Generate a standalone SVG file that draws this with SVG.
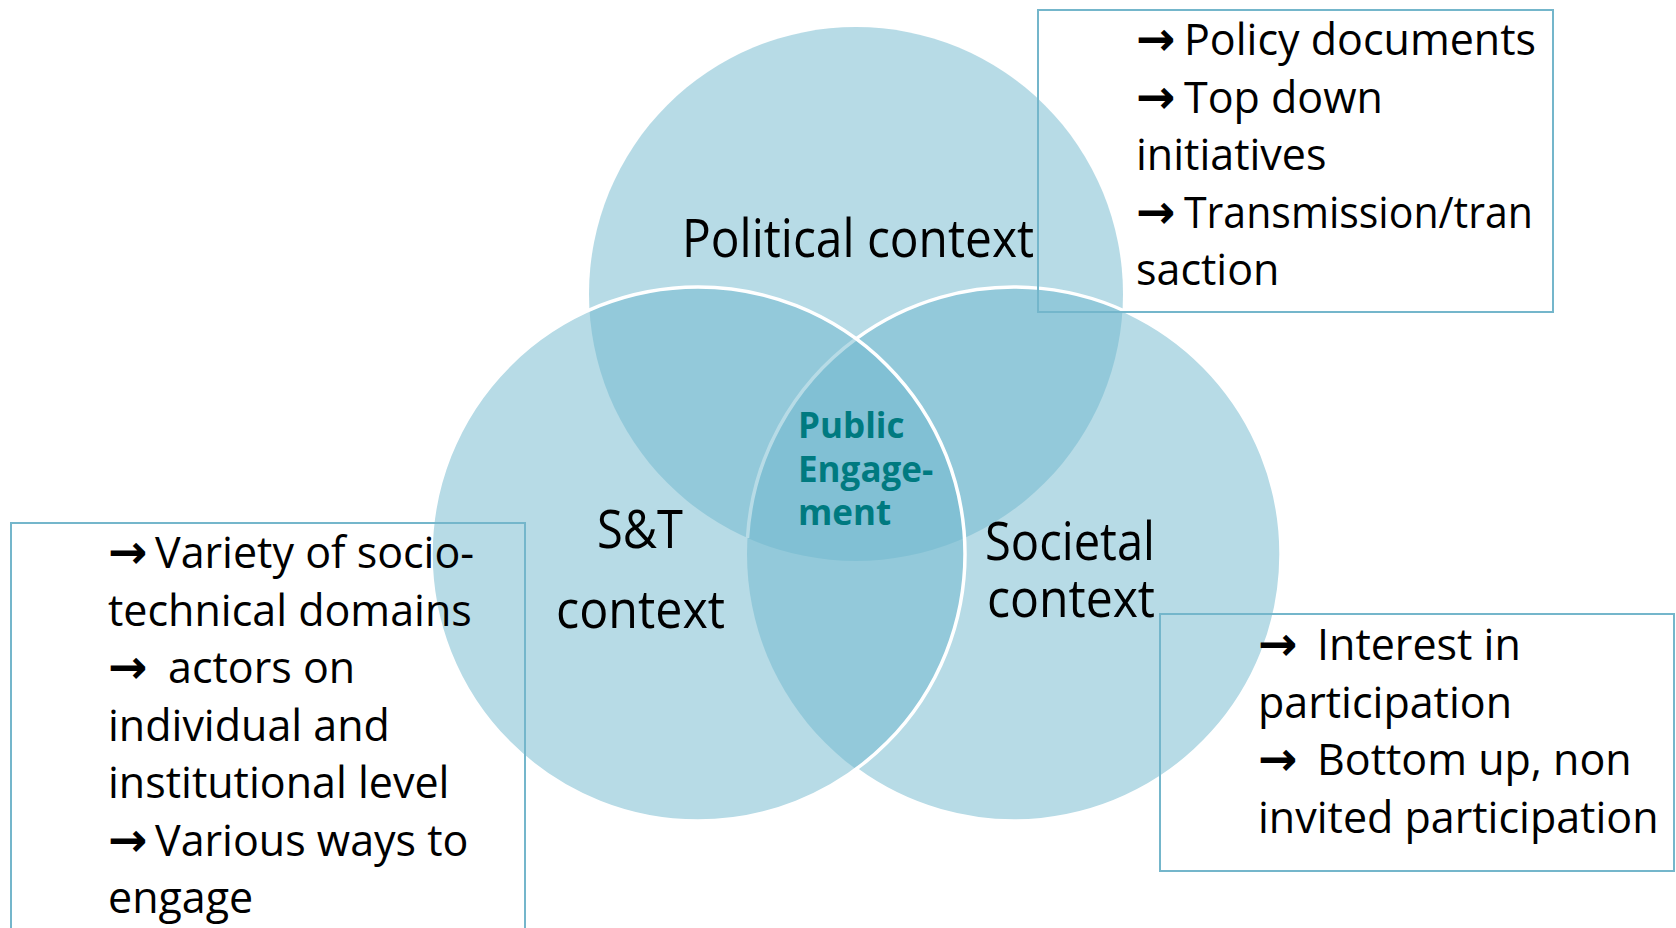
<svg xmlns="http://www.w3.org/2000/svg" width="1676" height="928" viewBox="0 0 1676 928">
<style>
.fill{fill:#6fb7cd;fill-opacity:0.5;stroke:none}
.edge{fill:none;stroke:#ffffff;stroke-width:3.5}
.lbl{font-family:"Open Sans","Noto Sans","Liberation Sans",sans-serif;font-size:53px;fill:#000}
.txt{font-family:"Open Sans","Noto Sans","Liberation Sans",sans-serif;font-size:43px;fill:#000}
.arr{font-family:"DejaVu Sans",sans-serif;font-size:47px;font-weight:bold}
.pe{font-family:"Open Sans","Noto Sans","Liberation Sans",sans-serif;font-size:35px;font-weight:bold;fill:#007a80}
.box{fill:none;stroke:#74b6cb;stroke-width:2}
</style>
<rect width="1676" height="928" fill="#ffffff"/>
<g id="node-political">
<circle class="fill" cx="856" cy="294" r="267"/>
<text class="lbl" x="682" y="257" textLength="352" lengthAdjust="spacingAndGlyphs">Political context</text>
</g>
<g id="node-societal">
<circle class="fill" cx="1014" cy="554" r="267"/>
<path class="edge" d="M856,338.8 A267,267 0 1 1 856,769.2"/>
<path class="edge" d="M856,338.8 A267,267 0 0 0 747.5,538"/>
<text class="lbl" x="1070" y="560" text-anchor="middle" textLength="170" lengthAdjust="spacingAndGlyphs">Societal</text>
<text class="lbl" x="1071" y="617" text-anchor="middle" textLength="168" lengthAdjust="spacingAndGlyphs">context</text>
</g>
<g id="node-st">
<circle class="fill" cx="698" cy="554" r="267"/>
<circle class="edge" cx="698" cy="554" r="267"/>
<text class="lbl" x="640" y="548" text-anchor="middle" textLength="86" lengthAdjust="spacingAndGlyphs">S&amp;T</text>
<text class="lbl" x="640.5" y="628" text-anchor="middle" textLength="169" lengthAdjust="spacingAndGlyphs">context</text>
</g>
<g id="node-public">
<text class="pe" x="798" y="438">Public</text>
<text class="pe" x="798" y="482">Engage-</text>
<text class="pe" x="798" y="525">ment</text>
</g>
<g id="connectors"></g>
<g id="box-political">
<rect class="box" x="1038" y="10" width="515" height="302"/>
<text class="txt" y="55"><tspan class="arr" x="1136">→</tspan><tspan x="1184">Policy documents</tspan></text>
<text class="txt" y="112.5"><tspan class="arr" x="1136">→</tspan><tspan x="1184">Top down</tspan></text>
<text class="txt" x="1136" y="170">initiatives</text>
<text class="txt" y="227.5"><tspan class="arr" x="1136">→</tspan><tspan x="1184" textLength="349" lengthAdjust="spacingAndGlyphs">Transmission/tran</tspan></text>
<text class="txt" x="1136" y="285">saction</text>
</g>
<g id="box-st">
<rect class="box" x="11" y="523" width="514" height="420"/>
<text class="txt" y="568"><tspan class="arr" x="108">→</tspan><tspan x="155">Variety of socio-</tspan></text>
<text class="txt" x="108" y="625.5">technical domains</text>
<text class="txt" y="683"><tspan class="arr" x="108">→</tspan><tspan x="168">actors on</tspan></text>
<text class="txt" x="108" y="740.5">individual and</text>
<text class="txt" x="108" y="798">institutional level</text>
<text class="txt" y="855.5"><tspan class="arr" x="108">→</tspan><tspan x="155">Various ways to</tspan></text>
<text class="txt" x="108" y="913">engage</text>
</g>
<g id="box-societal">
<rect class="box" x="1160" y="614" width="514" height="257"/>
<text class="txt" y="660"><tspan class="arr" x="1258">→</tspan><tspan x="1317">Interest in</tspan></text>
<text class="txt" x="1258" y="717.5">participation</text>
<text class="txt" y="775"><tspan class="arr" x="1258">→</tspan><tspan x="1317">Bottom up, non</tspan></text>
<text class="txt" x="1258" y="832.5">invited participation</text>
</g>
</svg>
